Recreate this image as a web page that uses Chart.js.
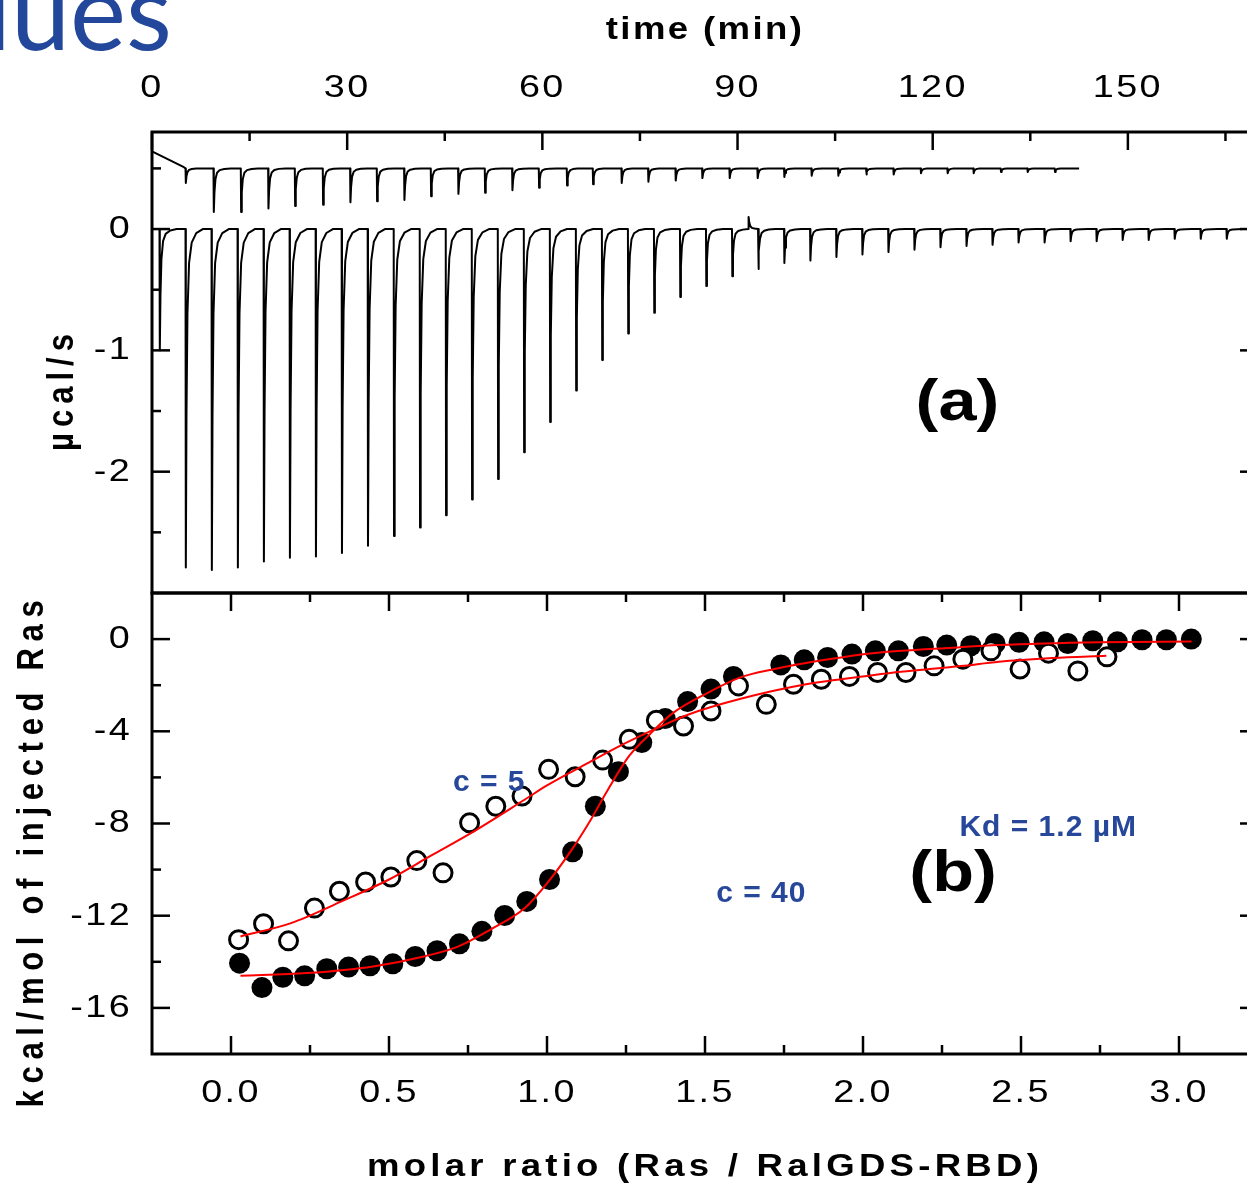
<!DOCTYPE html>
<html lang="en">
<head>
<meta charset="utf-8">
<title>ITC titration Ras / RalGDS-RBD</title>
<script src="https://cdn.jsdelivr.net/npm/chart.js@4.4.1/dist/chart.umd.min.js"></script>
<style>
  html, body { margin: 0; padding: 0; background: #fff; }
  #page { position: relative; width: 1247px; height: 1186px; overflow: hidden; }
  #page canvas { position: absolute; left: 0; }
  #rawCanvas { top: 0; }
  #fitCanvas { top: 580px; }
</style>
</head>
<body>
<div id="page">
  <canvas id="rawCanvas" width="1300" height="600"></canvas>
  <canvas id="fitCanvas" width="1300" height="606"></canvas>
</div>
<script>
// ---- panel (a): raw heat flow vs time ----
const timeTicks = [0, 30, 60, 90, 120, 150];
const timeMinor = [15, 45, 75, 105, 135, 165];
const powerTicks = [0, -1, -2];
const powerMinor = [0.5, -0.5, -1.5, -2.5];

// upper trace (c = 5 run, offset +0.5)
const upperStart = [[0, 0.64], [4.9, 0.51]];
const upperBase = 0.5;
const upperEnd = 142.5;
const upperTimes = [5.2, 9.5, 13.7, 17.9, 22.0, 26.3, 30.5, 34.6, 38.8, 42.9, 47.1, 51.2, 55.4, 59.5, 63.8, 67.8,
  72.2, 76.3, 80.5, 84.6, 88.8, 93.1, 97.2, 101.4, 105.5, 109.8, 114.0, 118.2, 122.3, 126.3, 130.5, 134.6, 138.8];
const upperPeaks = [0.38, 0.14, 0.14, 0.17, 0.19, 0.20, 0.22, 0.23, 0.24, 0.27, 0.29, 0.30, 0.32, 0.34, 0.36, 0.37,
  0.38, 0.39, 0.40, 0.42, 0.42, 0.42, 0.43, 0.44, 0.44, 0.45, 0.45, 0.46, 0.46, 0.46, 0.47, 0.47, 0.47];

// lower trace (c = 40 run), 91.7 is the small upward artefact
const lowerStart = [[0, 0]];
const lowerBase = 0;
const lowerEnd = 170;
const lowerTimes = [1.2, 5.2, 9.2, 13.2, 17.2, 21.2, 25.2, 29.2, 33.2, 37.2, 41.2, 45.2, 49.2, 53.2, 57.2, 61.2,
  65.2, 69.2, 73.2, 77.2, 81.2, 85.2, 89.2, 91.7, 93.2, 97.2, 101.2, 105.2, 109.2, 113.2, 117.2, 121.2, 125.2,
  129.2, 133.2, 137.2, 141.2, 145.2, 149.2, 153.2, 157.2, 161.2, 165.2];
const lowerPeaks = [-1.0, -2.79, -2.81, -2.79, -2.74, -2.71, -2.70, -2.67, -2.61, -2.53, -2.46, -2.36, -2.23, -2.06,
  -1.84, -1.59, -1.33, -1.08, -0.86, -0.69, -0.56, -0.47, -0.39, 0.10, -0.33, -0.28, -0.26, -0.23, -0.21, -0.19,
  -0.17, -0.15, -0.14, -0.13, -0.11, -0.11, -0.10, -0.10, -0.09, -0.09, -0.08, -0.08, -0.08];

// shape of one injection peak: [min after injection, fraction of peak height]
const peakShape = [[-0.05, 0], [0, 1], [0.1, 0.55], [0.25, 0.25], [0.5, 0.1], [0.9, 0.04], [1.6, 0.012], [2.6, 0]];

// ---- panel (b): integrated heats vs molar ratio ----
const ratioTicks = [0, 0.5, 1, 1.5, 2, 2.5, 3];
const ratioMinor = [0.25, 0.75, 1.25, 1.75, 2.25, 2.75];
const heatTicks = [0, -4, -8, -12, -16];
const heatMinor = [-2, -6, -10, -14];

const ratio40 = [0.027, 0.098, 0.164, 0.233, 0.303, 0.372, 0.440, 0.512, 0.583, 0.652, 0.723, 0.794, 0.866, 0.936,
  1.008, 1.081, 1.153, 1.226, 1.300, 1.374, 1.445, 1.519, 1.590, 1.740, 1.814, 1.888, 1.965, 2.039, 2.112, 2.191,
  2.265, 2.341, 2.418, 2.494, 2.573, 2.648, 2.727, 2.805, 2.883, 2.960, 3.039];
const heat40 = [-14.06, -15.12, -14.67, -14.61, -14.30, -14.23, -14.17, -14.09, -13.77, -13.52, -13.22, -12.68,
  -11.99, -11.38, -10.43, -9.23, -7.25, -5.75, -4.49, -3.45, -2.71, -2.17, -1.62, -1.12, -0.90, -0.80, -0.65,
  -0.51, -0.51, -0.32, -0.26, -0.29, -0.19, -0.14, -0.12, -0.19, -0.07, -0.12, -0.03, -0.03, 0.00];

const ratio5 = [0.024, 0.103, 0.182, 0.264, 0.343, 0.426, 0.506, 0.588, 0.671, 0.755, 0.838, 0.921, 1.005, 1.089,
  1.176, 1.260, 1.346, 1.432, 1.519, 1.606, 1.694, 1.780, 1.868, 1.957, 2.046, 2.136, 2.225, 2.316, 2.405, 2.497,
  2.587, 2.680, 2.772];
const heat5 = [-13.04, -12.35, -13.09, -11.67, -10.94, -10.54, -10.32, -9.61, -10.14, -7.97, -7.25, -6.81, -5.65,
  -5.97, -5.25, -4.35, -3.52, -3.77, -3.12, -2.03, -2.83, -1.96, -1.74, -1.62, -1.45, -1.45, -1.16, -0.87, -0.51,
  -1.30, -0.61, -1.38, -0.77];

// fitted curves
const fitRatio40 = [0.03, 0.24, 0.45, 0.61, 0.72, 0.82, 0.93, 1.00, 1.08, 1.14, 1.19, 1.26, 1.33, 1.40, 1.51, 1.61,
  1.72, 1.88, 2.03, 2.30, 2.43, 2.75, 3.04];
const fitHeat40 = [-14.61, -14.49, -14.20, -13.77, -13.33, -12.61, -11.67, -10.6, -9.1, -7.8, -6.6, -5.07, -4.06,
  -3.19, -2.32, -1.67, -1.30, -0.90, -0.61, -0.36, -0.26, -0.14, -0.10];
const fitRatio5 = [0.03, 0.19, 0.35, 0.50, 0.63, 0.77, 0.93, 1.00, 1.12, 1.24, 1.35, 1.45, 1.61, 1.82, 2.03, 2.12,
  2.31, 2.43, 2.60, 2.77];
const fitHeat5 = [-12.9, -12.32, -11.38, -10.43, -9.42, -8.33, -6.96, -6.35, -5.45, -4.57, -3.85, -3.26, -2.6,
  -1.96, -1.57, -1.42, -1.17, -0.98, -0.82, -0.72];

const FONT = '"Liberation Sans", Arial, Helvetica, sans-serif';
const BLUE = '#27479a';
const TEXT_STRETCH = 1.18;   // the figure's own lettering is drawn wider than normal
const tickFont = { family: FONT, size: 32 };
const titleFont = { family: FONT, size: 31, weight: 'bold' };

Chart.defaults.font.family = FONT;
Chart.defaults.color = '#000';

// draw text widened across the page's x direction (works for rotated titles too)
function stretched(ctx, draw) {
  ctx.fillText = function (text, x, y, maxWidth) {
    const m = this.getTransform();
    this.save();
    this.translate(x, y);
    if (Math.abs(m.b) > Math.abs(m.a)) this.scale(1, TEXT_STRETCH); else this.scale(TEXT_STRETCH, 1);
    CanvasRenderingContext2D.prototype.fillText.call(this, text, 0, 0, maxWidth);
    this.restore();
  };
  try { draw(); } finally { delete ctx.fillText; }
}

// letter spacing, stretch and a shift along the axis for titles and tick labels
let scaleProto = Chart.registry.getScale('linear').prototype;
while (scaleProto && !Object.prototype.hasOwnProperty.call(scaleProto, 'drawTitle')) {
  scaleProto = Object.getPrototypeOf(scaleProto);
}
const baseDrawTitle = scaleProto.drawTitle;
scaleProto.drawTitle = function () {
  const t = this.options.title;
  const ctx = this.ctx;
  ctx.save();
  ctx.letterSpacing = (t.spacing || 0) + 'px';
  ctx.translate(0, t.shift || 0);
  stretched(ctx, () => baseDrawTitle.call(this));
  ctx.restore();
};
const baseDrawLabels = scaleProto.drawLabels;
scaleProto.drawLabels = function (area) {
  const ctx = this.ctx;
  ctx.save();
  ctx.letterSpacing = (this.options.ticks.spacing || 0) + 'px';
  stretched(ctx, () => baseDrawLabels.call(this, area));
  ctx.restore();
};

function trace(start, base, times, peaks, end) {
  const pts = start.map(p => ({ x: p[0], y: p[1] }));
  times.forEach((t, i) => {
    const next = i + 1 < times.length ? times[i + 1] : end;
    peakShape.forEach(([dt, f]) => {
      if (t + dt < next - 0.1) pts.push({ x: t + dt, y: base + f * (peaks[i] - base) });
    });
  });
  pts.push({ x: end, y: base });
  return pts;
}

function pairs(xs, ys) {
  return xs.map((x, i) => ({ x: x, y: ys[i] }));
}

// frame round the plot area with inward ticks on every side
function frameTicks(marks) {
  return {
    id: 'frameTicks',
    afterDraw(chart) {
      const { ctx, chartArea: a } = chart;
      ctx.save();
      ctx.strokeStyle = '#000';
      ctx.lineWidth = 2.5;
      marks.forEach(m => {
        const s = chart.scales[m.scale];
        [[m.major, 18], [m.minor, 9]].forEach(([vals, len]) => vals.forEach(v => {
          const p = s.getPixelForValue(v);
          ctx.beginPath();
          if (m.side === 'top') { ctx.moveTo(p, a.top); ctx.lineTo(p, a.top + len); }
          if (m.side === 'bottom') { ctx.moveTo(p, a.bottom); ctx.lineTo(p, a.bottom - len); }
          if (m.side === 'left') { ctx.moveTo(a.left, p); ctx.lineTo(a.left + len, p); }
          if (m.side === 'right') { ctx.moveTo(a.right, p); ctx.lineTo(a.right - len, p); }
          ctx.stroke();
        }));
      });
      ctx.lineWidth = 3;
      ctx.strokeRect(a.left, a.top, a.width, a.height);
      ctx.restore();
    }
  };
}

// text labels placed in data units
function notes(items) {
  return {
    id: 'notes',
    afterDatasetsDraw(chart) {
      const { ctx, scales: { x, y } } = chart;
      items.forEach(n => {
        ctx.save();
        ctx.textAlign = 'center';
        ctx.textBaseline = 'middle';
        ctx.font = n.font;
        ctx.fillStyle = n.color;
        ctx.letterSpacing = n.spacing + 'px';
        ctx.translate(x.getPixelForValue(n.x), y.getPixelForValue(n.y));
        ctx.scale(n.stretch || 1, 1);
        ctx.fillText(n.text, 0, 0);
        ctx.restore();
      });
    }
  };
}

const slideTitle = {
  id: 'slideTitle',
  beforeDraw(chart) {
    const ctx = chart.ctx;
    ctx.save();
    ctx.font = '106px Lato, "Open Sans", sans-serif';
    ctx.fillStyle = '#22479b';
    ctx.textBaseline = 'alphabetic';
    ctx.fillText('lues', -14, 50);
    ctx.restore();
  }
};

const traceStyle = { borderColor: '#000', borderWidth: 2, pointRadius: 0, tension: 0, borderJoinStyle: 'round' };

const fitX = s => { s.paddingLeft = 0; s.paddingRight = 0; };
const fitY = s => { s.width = 152; s.paddingTop = 0; s.paddingBottom = 0; };

new Chart(document.getElementById('rawCanvas'), {
  type: 'line',
  data: {
    datasets: [
      Object.assign({ label: 'c = 5 (offset)', data: trace(upperStart, upperBase, upperTimes, upperPeaks, upperEnd) }, traceStyle),
      Object.assign({ label: 'c = 40', data: trace(lowerStart, lowerBase, lowerTimes, lowerPeaks, lowerEnd) }, traceStyle)
    ]
  },
  options: {
    responsive: false,
    animation: false,
    devicePixelRatio: 1,
    layout: { padding: { top: 0, left: 0, right: 42, bottom: 7 } },
    plugins: { legend: { display: false }, tooltip: { enabled: false } },
    scales: {
      x: {
        type: 'linear', position: 'top', min: 0, max: 170,
        afterBuildTicks: s => { s.ticks = timeTicks.map(v => ({ value: v })); },
        afterFit: s => { s.height = 132; fitX(s); },
        grid: { display: false, drawTicks: false },
        border: { display: false },
        ticks: { font: tickFont, color: '#000', padding: 25, maxRotation: 0, autoSkip: false, spacing: 2,
          callback: v => String(v) },
        title: { display: true, text: 'time (min)', font: titleFont, color: '#000', padding: { top: 12 }, spacing: 2 }
      },
      y: {
        type: 'linear', position: 'left', min: -3, max: 0.8,
        afterBuildTicks: s => { s.ticks = powerTicks.map(v => ({ value: v })); },
        afterFit: fitY,
        grid: { display: false, drawTicks: false },
        border: { display: false },
        ticks: { font: tickFont, color: '#000', padding: 20, spacing: 2, callback: v => String(v) },
        title: { display: true, text: 'µcal/s', font: titleFont, color: '#000', padding: { top: 44 }, spacing: 6, shift: 27 }
      }
    }
  },
  plugins: [
    slideTitle,
    frameTicks([
      { scale: 'x', side: 'top', major: timeTicks, minor: timeMinor },
      { scale: 'y', side: 'left', major: powerTicks, minor: powerMinor },
      { scale: 'y', side: 'right', major: powerTicks, minor: powerMinor }
    ]),
    notes([{ text: '(a)', x: 123.8, y: -1.44, font: 'bold 58px ' + FONT, color: '#000', spacing: 0, stretch: TEXT_STRETCH }])
  ]
});

new Chart(document.getElementById('fitCanvas'), {
  type: 'scatter',
  data: {
    datasets: [
      { type: 'line', label: 'fit c = 40', data: pairs(fitRatio40, fitHeat40), borderColor: '#ff0000', borderWidth: 2,
        pointRadius: 0, cubicInterpolationMode: 'monotone', order: 0 },
      { type: 'line', label: 'fit c = 5', data: pairs(fitRatio5, fitHeat5), borderColor: '#ff0000', borderWidth: 2,
        pointRadius: 0, cubicInterpolationMode: 'monotone', order: 0 },
      { label: 'c = 5', data: pairs(ratio5, heat5), pointRadius: 9, pointBorderWidth: 3, pointBorderColor: '#000',
        pointBackgroundColor: '#fff', order: 1 },
      { label: 'c = 40', data: pairs(ratio40, heat40), pointRadius: 10.5, pointBorderWidth: 0, pointBorderColor: '#000',
        pointBackgroundColor: '#000', order: 2 }
    ]
  },
  options: {
    responsive: false,
    animation: false,
    devicePixelRatio: 1,
    layout: { padding: { top: 13, left: 0, right: 42, bottom: 0 } },
    plugins: { legend: { display: false }, tooltip: { enabled: false } },
    scales: {
      x: {
        type: 'linear', position: 'bottom', min: -0.25, max: 3.25,
        afterBuildTicks: s => { s.ticks = ratioTicks.map(v => ({ value: v })); },
        afterFit: s => { s.height = 132; fitX(s); },
        grid: { display: false, drawTicks: false },
        border: { display: false },
        ticks: { font: tickFont, color: '#000', padding: 20, maxRotation: 0, autoSkip: false, spacing: 2,
          callback: v => v.toFixed(1) },
        title: { display: true, text: 'molar ratio (Ras / RalGDS-RBD)', font: titleFont, color: '#000',
          padding: { bottom: 0 }, spacing: 3.6 }
      },
      y: {
        type: 'linear', position: 'left', min: -18, max: 2,
        afterBuildTicks: s => { s.ticks = heatTicks.map(v => ({ value: v })); },
        afterFit: fitY,
        grid: { display: false, drawTicks: false },
        border: { display: false },
        ticks: { font: tickFont, color: '#000', padding: 20, spacing: 2, callback: v => String(v) },
        title: { display: true, text: 'kcal/mol of injected Ras', font: titleFont, color: '#000',
          padding: { top: 14 }, spacing: 6.7, shift: 27 }
      }
    }
  },
  plugins: [
    frameTicks([
      { scale: 'x', side: 'top', major: ratioTicks, minor: ratioMinor },
      { scale: 'x', side: 'bottom', major: ratioTicks, minor: ratioMinor },
      { scale: 'y', side: 'left', major: heatTicks, minor: heatMinor },
      { scale: 'y', side: 'right', major: heatTicks, minor: heatMinor }
    ]),
    notes([
      { text: 'c = 5', x: 0.817, y: -6.22, font: 'bold 30px ' + FONT, color: BLUE, spacing: 1 },
      { text: 'c = 40', x: 1.678, y: -11.04, font: 'bold 30px ' + FONT, color: BLUE, spacing: 1 },
      { text: 'Kd = 1.2 µM', x: 2.586, y: -8.17, font: 'bold 30px ' + FONT, color: BLUE, spacing: 1 },
      { text: '(b)', x: 2.285, y: -10.22, font: 'bold 58px ' + FONT, color: '#000', spacing: 0, stretch: TEXT_STRETCH }
    ])
  ]
});
</script>
</body>
</html>
